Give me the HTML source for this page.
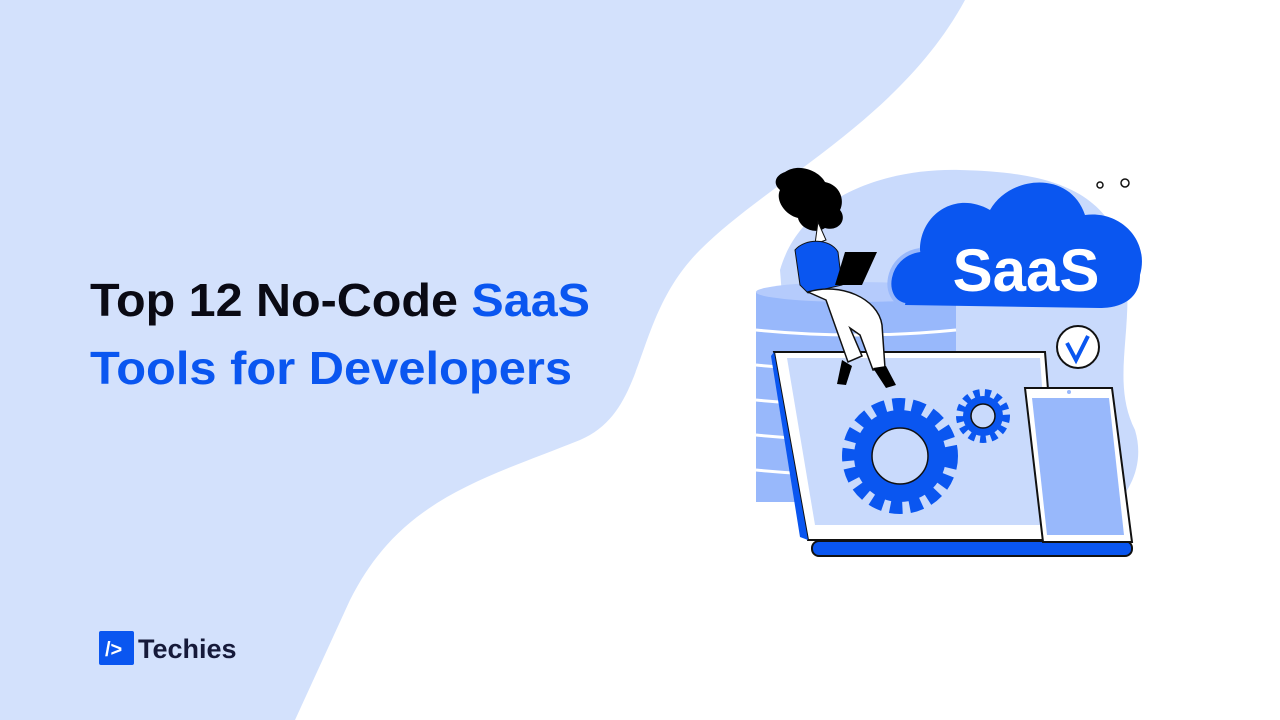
<!DOCTYPE html>
<html><head><meta charset="utf-8"><style>
html,body{margin:0;padding:0;width:1280px;height:720px;overflow:hidden;background:#fff}
svg{display:block}
</style></head><body>
<svg width="1280" height="720" viewBox="0 0 1280 720" xmlns="http://www.w3.org/2000/svg">
<path d="M0,0 L965,0 C900,120 770,180 700,250 C630,320 650,410 580,440 C480,480 400,500 350,600 L295,720 L0,720 Z" fill="#d3e1fc"/>
<text x="90" y="316" font-family="Liberation Sans, sans-serif" font-weight="bold" font-size="46" textLength="500" lengthAdjust="spacingAndGlyphs"><tspan fill="#0a0a14">Top 12 No-Code </tspan><tspan fill="#0a56f0">SaaS</tspan></text>
<text x="90" y="384" font-family="Liberation Sans, sans-serif" font-weight="bold" font-size="46" fill="#0a56f0" textLength="482" lengthAdjust="spacingAndGlyphs">Tools for Developers</text>
<rect x="99" y="631" width="35" height="34" rx="2" fill="#0a56f0"/>
<text x="105" y="656" font-family="Liberation Sans, sans-serif" font-weight="bold" font-size="20" fill="#fff">/&gt;</text>
<text x="138" y="658" font-family="Liberation Sans, sans-serif" font-weight="bold" font-size="27" fill="#161a3a">Techies</text>
<path d="M780,270 C800,200 880,168 960,170 C1050,172 1110,190 1125,260 C1135,330 1110,380 1135,430 C1150,480 1110,520 1080,525 L800,525 Z" fill="#c9dafc"/>
<rect x="756" y="292" width="200" height="210" fill="#98b8fb"/>
<ellipse cx="856" cy="292" rx="100" ry="10" fill="#b5cbfc"/>
<g stroke="#fff" stroke-width="3" fill="none">
<path d="M756,330 Q856,340 956,330"/><path d="M756,365 Q856,375 956,365"/><path d="M756,400 Q856,410 956,400"/><path d="M756,435 Q856,445 956,435"/><path d="M756,470 Q856,480 956,470"/>
</g>
<path d="M905,305 C880,300 885,255 920,250 C920,215 955,190 990,210 C1010,175 1070,170 1085,215 C1120,210 1150,240 1140,275 C1140,300 1120,308 1100,308 Z" fill="#0a56f0"/>
<path d="M905,305 C880,300 885,255 920,250" stroke="#98b8fb" stroke-width="4" fill="none"/>
<text x="1026" y="291" text-anchor="middle" font-family="Liberation Sans, sans-serif" font-weight="bold" font-size="60" fill="#fff">SaaS</text>
<circle cx="1078" cy="347" r="21" fill="#fff" stroke="#111" stroke-width="2"/>
<path d="M1067,343 L1076,360 L1088,336" stroke="#0a56f0" stroke-width="4" fill="none"/>
<circle cx="1100" cy="185" r="3" fill="none" stroke="#111" stroke-width="1.5"/>
<circle cx="1125" cy="183" r="4" fill="none" stroke="#111" stroke-width="1.5"/>
<rect x="812" y="541" width="320" height="15" rx="7" fill="#0a56f0" stroke="#111" stroke-width="2"/>
<path d="M774,352 L1045,352 L1060,540 L808,540 Z" fill="#fff" stroke="#111" stroke-width="2"/>
<path d="M774,352 L808,540 L800,537 L771,356 Z" fill="#0a56f0"/>
<path d="M787,358 L1040,358 L1052,525 L815,525 Z" fill="#c9dafc"/>
<g>
<circle cx="900" cy="456" r="50" stroke-dasharray="12 7" stroke-width="16" fill="none" stroke="#0a56f0"/>
<circle cx="900" cy="456" r="46" fill="#0a56f0"/>
<circle cx="900" cy="456" r="28" fill="#c9dafc" stroke="#111" stroke-width="1.5"/>
<circle cx="983" cy="416" r="23" stroke-dasharray="6 5" stroke-width="8" fill="none" stroke="#0a56f0"/>
<circle cx="983" cy="416" r="20" fill="#0a56f0"/>
<circle cx="983" cy="416" r="12" fill="#c9dafc" stroke="#111" stroke-width="1.5"/>
</g>
<path d="M1025,388 L1112,388 L1132,542 L1043,542 Z" fill="#fff" stroke="#111" stroke-width="2"/>
<path d="M1032,398 L1109,398 L1124,535 L1047,535 Z" fill="#98b8fb"/>
<circle cx="1069" cy="392" r="2" fill="#98b8fb"/>
<!-- person -->
<path d="M785,172 C800,162 820,172 825,182 C840,185 845,200 840,210 C848,220 838,232 825,228 C815,235 800,228 798,218 C785,215 775,200 780,190 C772,183 776,175 785,172 Z" fill="#000"/>
<path d="M818,222 L826,240 L815,244 Z" fill="#fff" stroke="#111"/>
<path d="M795,250 C805,238 830,238 838,252 L842,285 L808,293 L800,285 Z" fill="#0a56f0" stroke="#111" stroke-width="1"/>
<path d="M845,252 L877,252 L862,285 L835,285 Z" fill="#000"/>
<path d="M808,292 C840,282 878,298 882,325 L885,368 L873,370 L860,335 L850,328 L862,356 L848,362 L826,300 Z" fill="#fff" stroke="#111" stroke-width="1.5"/>
<path d="M842,360 L852,366 L846,385 L837,384 Z" fill="#000"/>
<path d="M873,368 L886,366 L896,385 L886,388 Z" fill="#000"/>
</svg>
</body></html>
